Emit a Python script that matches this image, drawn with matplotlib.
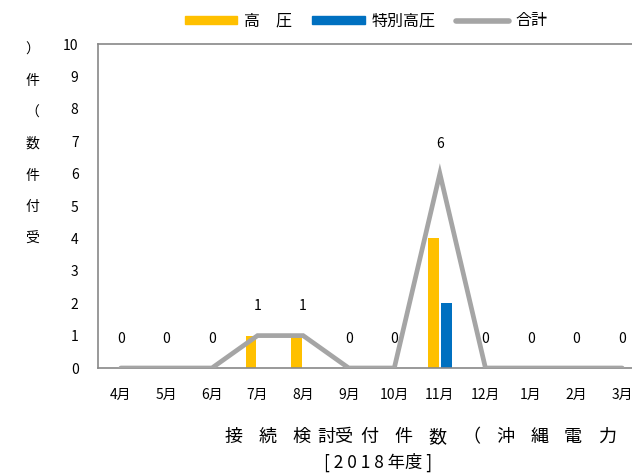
import matplotlib
matplotlib.use("Agg")
import matplotlib.pyplot as plt
from matplotlib.lines import Line2D
from matplotlib.patches import Patch
import numpy as np

plt.rcParams['font.family'] = ['Noto Sans CJK JP', 'DejaVu Sans']

months = ["4月", "5月", "6月", "7月", "8月", "9月", "10月", "11月", "12月", "1月", "2月", "3月"]
high_voltage = [0, 0, 0, 1, 1, 0, 0, 4, 0, 0, 0, 0]
extra_high_voltage = [0, 0, 0, 0, 0, 0, 0, 2, 0, 0, 0, 0]
total = [0, 0, 0, 1, 1, 0, 0, 6, 0, 0, 0, 0]
title_slots = ["接", "続", "検", "討受", "付", "件", "数", "（", "沖", "縄", "電", "力"]
subtitle = "[ 2 0 1 8 年度 ]"

c_hv = "#FFC000"
c_ehv = "#0070C0"
c_tot = "#A5A5A5"

W, H = 632, 475
fig = plt.figure(figsize=(W / 100, H / 100), dpi=100)
left, right, top, bottom = 98, 645, 44, 368
ax = fig.add_axes([left / W, 1 - bottom / H, (right - left) / W, (bottom - top) / H])

x = np.arange(len(months))
bw = 0.24
off = 0.143
ax.bar(x - off, high_voltage, width=bw, color=c_hv, zorder=2)
ax.bar(x + off, extra_high_voltage, width=bw, color=c_ehv, zorder=2)
ax.plot(x, total, color=c_tot, lw=3.4, solid_capstyle='round', solid_joinstyle='miter', zorder=3)

for xi, v in zip(x, total):
    ax.annotate(str(v), (xi, v), xytext=(0, 16), textcoords='offset points',
                ha='center', va='bottom', fontsize=10, color='#000000')

ax.set_xlim(-0.5, len(months) - 0.5)
ax.set_ylim(0, 10)
ax.set_yticks(range(0, 11))
ax.set_xticks(x)
ax.set_xticklabels(months, fontsize=10)
ax.tick_params(axis='both', length=0, labelsize=10, colors='#000000')
ax.tick_params(axis='y', pad=14)
ax.tick_params(axis='x', pad=14)
for s in ['left', 'top', 'bottom']:
    ax.spines[s].set_color('#888888')
    ax.spines[s].set_linewidth(1.2)
ax.spines['right'].set_visible(False)

handles = [Patch(color=c_hv), Patch(color=c_ehv),
           Line2D([0], [0], color=c_tot, lw=4, solid_capstyle='round')]
labels = ["高　圧", "特別高圧", "合計"]
leg = fig.legend(handles, labels, loc='center', bbox_to_anchor=(366 / W, 1 - 21 / H),
                 ncol=3, frameon=False, fontsize=11.5, handlelength=3.3, handleheight=0.45,
                 columnspacing=1.3, handletextpad=0.4)

ylab = "受付件数（件）"
fig.text(32 / W, 1 - 144 / H, "\n".join(reversed(list(ylab))), ha='center', va='center',
         fontsize=10, linespacing=2.6)

step = 33.9
for i, ch in enumerate(title_slots):
    cx = 234 + i * step
    fig.text(cx / W, 1 - 437 / H, ch, ha='center', va='center', fontsize=13)
fig.text(378 / W, 1 - 462 / H, subtitle, ha='center', va='center', fontsize=12.5)

fig.savefig("out.png", dpi=100)
